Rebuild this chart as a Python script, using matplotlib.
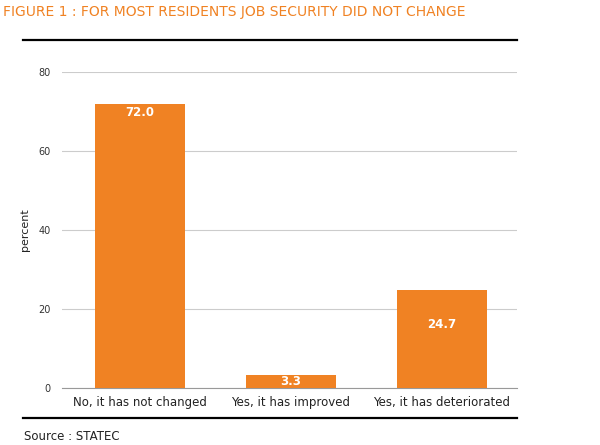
import matplotlib.pyplot as plt
from matplotlib.lines import Line2D

categories = ["No, it has not changed", "Yes, it has improved", "Yes, it has deteriorated"]
values = [72.0, 3.3, 24.7]
label_y = [69.8, 1.7, 16.0]  # where the value labels sit inside the bars

ORANGE = "#F08223"

fig = plt.figure(figsize=(6, 4.45), dpi=100)
ax = fig.add_axes([0.103, 0.128, 0.759, 0.71])

x = range(len(categories))
ax.bar(x, values, width=0.6, color=ORANGE, zorder=3)
for xi, v, ly in zip(x, values, label_y):
    ax.text(xi, ly, f"{v:.1f}", ha="center", va="center", color="white",
            fontsize=8.5, fontweight="bold", zorder=4)

ax.set_xlim(-0.52, 2.5)
ax.set_ylim(0, 80)
ax.set_yticks([0, 20, 40, 60, 80])
ax.set_xticks(list(x))
ax.set_xticklabels(categories, fontsize=8.5, color="#222222")
ax.tick_params(axis="y", labelsize=7, colors="#333333", length=0, pad=8)
ax.tick_params(axis="x", length=0, pad=6)
ax.set_ylabel("percent", fontsize=8, color="#222222", labelpad=6)
ax.grid(axis="y", color="#cccccc", lw=0.8, zorder=0)
for s in ["top", "right", "left"]:
    ax.spines[s].set_visible(False)
ax.spines["bottom"].set_color("#999999")

fig.text(0.005, 0.972, "FIGURE 1 : FOR MOST RESIDENTS JOB SECURITY DID NOT CHANGE",
         color=ORANGE, fontsize=10, va="center")
fig.add_artist(Line2D([0.038, 0.862], [0.910, 0.910], color="black", lw=1.6))
fig.add_artist(Line2D([0.038, 0.862], [0.061, 0.061], color="black", lw=1.6))
fig.text(0.04, 0.018, "Source : STATEC", fontsize=8.5, color="#222222", va="center")

fig.savefig("out.png", dpi=100)
